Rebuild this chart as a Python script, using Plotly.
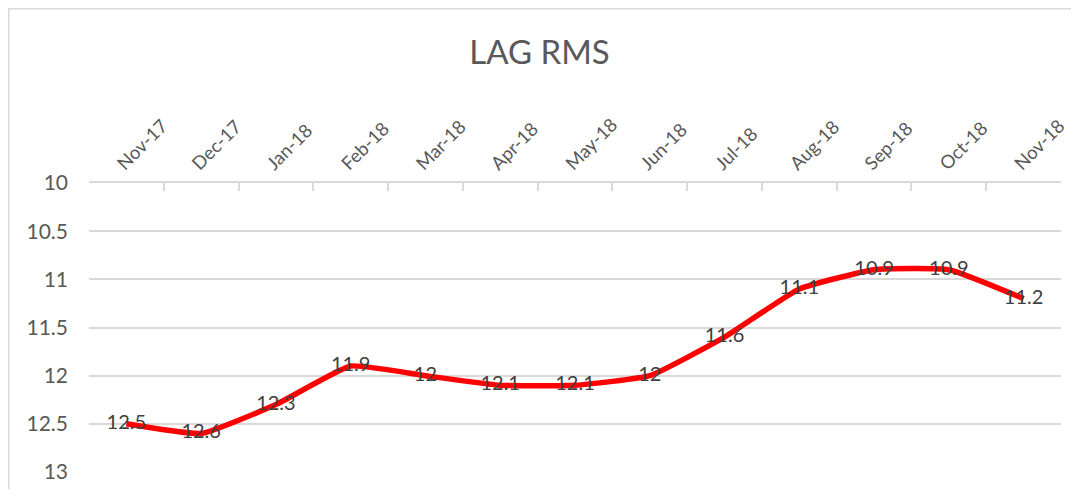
import plotly.graph_objects as go

months = ["Nov-17", "Dec-17", "Jan-18", "Feb-18", "Mar-18", "Apr-18", "May-18",
          "Jun-18", "Jul-18", "Aug-18", "Sep-18", "Oct-18", "Nov-18"]
lag_rms = [12.5, 12.6, 12.3, 11.9, 12.0, 12.1, 12.1, 12.0, 11.6, 11.1, 10.9, 10.9, 11.2]
labels = ["12.5", "12.6", "12.3", "11.9", "12", "12.1", "12.1", "12", "11.6", "11.1", "10.9", "10.9", "11.2"]
y_ticks = [10, 10.5, 11, 11.5, 12, 12.5, 13]
y_tick_text = ["10", "10.5", "11", "11.5", "12", "12.5", "13"]

FONT = "Lato, Open Sans, sans-serif"

# the page body has an 8px margin, so the figure is offset by 8px
OFF = 8
W, H = 1079 - 2 * OFF, 497 - 2 * OFF
L, T = 89 - OFF, 183 - OFF
R = W - (1061 - OFF)
B = H - (472 - OFF)
pw, ph = W - L - R, H - T - B
ytop = 1 + (T - 0.5) / ph
xleft = (0.5 - L) / pw

fig = go.Figure()
fig.add_trace(go.Scatter(
    x=months, y=lag_rms, mode="lines+text",
    text=labels, textposition="middle center",
    textfont=dict(family=FONT, size=20, color="#404040"),
    line=dict(color="#ff0000", width=5.5, shape="spline", smoothing=0.4),
    hoverinfo="x+y", showlegend=False, cliponaxis=False,
))

fig.update_layout(
    width=W, height=H,
    margin=dict(l=L, r=R, t=T, b=B, autoexpand=False),
    paper_bgcolor="white", plot_bgcolor="white",
    title=dict(text="LAG RMS", x=0.5, xanchor="center", y=1 - (52 - OFF) / H, yanchor="middle",
               font=dict(family=FONT, size=33, color="#595959")),
    font=dict(family=FONT, color="#595959"),
    xaxis=dict(
        type="category", side="top", tickangle=-45, automargin=False,
        tickfont=dict(family=FONT, size=18.5, color="#595959"),
        ticklabelshift=-8,
        showline=True, linecolor="#d9d9d9", linewidth=1.5,
        ticks="inside", ticklen=8, tickcolor="#d9d9d9", tickwidth=1.5,
        tickson="boundaries", showgrid=False, zeroline=False,
        range=[-0.5, len(months) - 0.5],
    ),
    yaxis=dict(
        range=[13, 10], tickvals=y_ticks, ticktext=y_tick_text, automargin=False,
        tickfont=dict(family=FONT, size=21, color="#595959"),
        showgrid=True, gridcolor="#d9d9d9", gridwidth=1.5,
        showline=False, zeroline=False, ticks="", ticklabelstandoff=20,
    ),
    shapes=[
        dict(type="line", xref="paper", yref="paper",
             x0=xleft, x1=xleft, y0=ytop, y1=-0.2,
             line=dict(color="#d9d9d9", width=2)),
        dict(type="line", xref="paper", yref="paper",
             x0=xleft, x1=1.1, y0=ytop, y1=ytop,
             line=dict(color="#d9d9d9", width=2)),
    ],
)

fig.write_html("out.html")
